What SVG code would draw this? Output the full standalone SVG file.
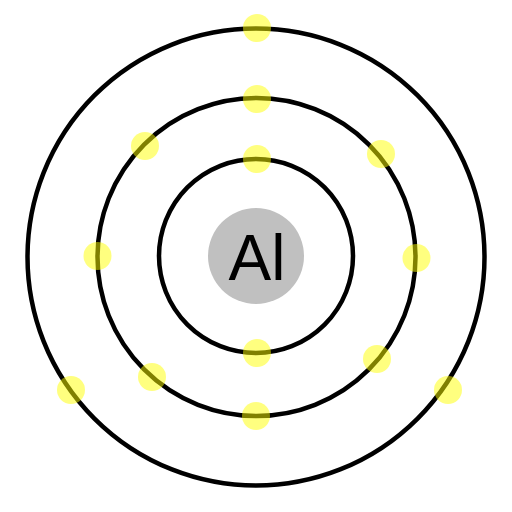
<svg xmlns="http://www.w3.org/2000/svg" width="512" height="512" viewBox="0 0 512 512">
<style>
.ring{fill:none;stroke:#000;stroke-width:4.5}
.e{fill:#ffff00;fill-opacity:0.5}
.lbl{font-family:"Liberation Sans",Arial,sans-serif;font-size:64px;fill:#000;text-anchor:middle}
</style>
<rect width="512" height="512" fill="#fff"/>
<g id="nucleus">
<circle cx="256" cy="256" r="48" fill="#c0c0c0"/>
<text class="lbl" x="257" y="280">Al</text>
</g>
<g id="shells">
<circle class="ring" cx="256" cy="256" r="97"/>
<circle class="ring" cx="256.5" cy="257" r="159"/>
<circle class="ring" cx="256" cy="257" r="228.5"/>
</g>
<g id="electrons">
<circle class="e" cx="257" cy="159" r="14"/>
<circle class="e" cx="257" cy="353" r="14"/>
<circle class="e" cx="257" cy="99" r="14"/>
<circle class="e" cx="381" cy="154" r="14"/>
<circle class="e" cx="416.5" cy="258" r="14"/>
<circle class="e" cx="377" cy="359" r="14"/>
<circle class="e" cx="256" cy="416" r="14"/>
<circle class="e" cx="152" cy="377" r="14"/>
<circle class="e" cx="97.5" cy="256" r="14"/>
<circle class="e" cx="145" cy="146" r="14"/>
<circle class="e" cx="257" cy="28" r="14"/>
<circle class="e" cx="448" cy="390" r="14"/>
<circle class="e" cx="71" cy="390" r="14"/>
</g>
</svg>
